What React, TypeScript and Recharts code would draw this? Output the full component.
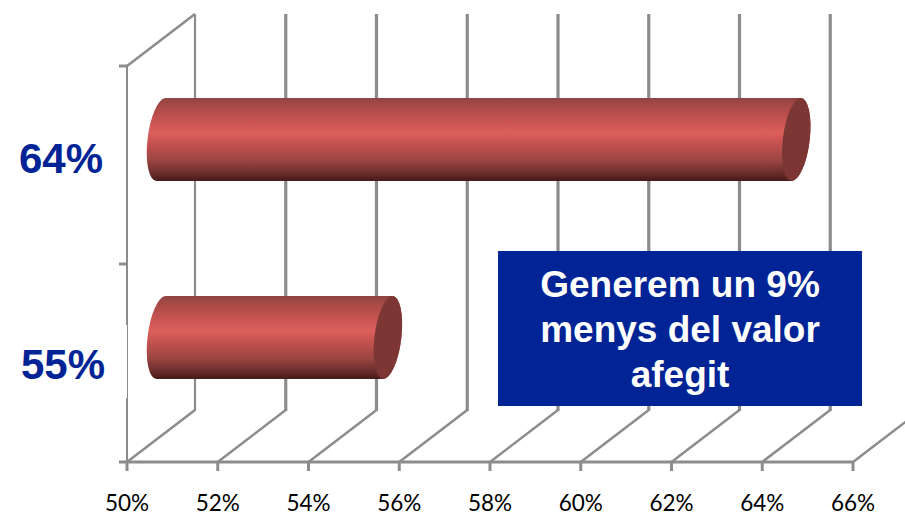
import React from "react";
import { BarChart, Bar, XAxis, YAxis, CartesianGrid } from "recharts";

const categories = ["64%", "55%"];
const values = [64, 55];
const xTicks = [50, 52, 54, 56, 58, 60, 62, 64, 66];
const noteLines = ["Generem un 9%", "menys del valor", "afegit"];

const data = categories.map((name, i) => ({ name, value: values[i] }));

const GRAY = "#8c8c8c";
const NAVY = "#002395";
const DEPTH_X = 68;
const DEPTH_Y = 52;
const Y_TICK = 8;

const labelShift = [
  { dx: 103, dy: -7 },
  { dx: 105, dy: 1 },
];

function CategoryTick(props: any) {
  const { y, payload, index } = props;
  const s = labelShift[index] || labelShift[0];
  return (
    <text
      x={s.dx}
      y={y + s.dy}
      textAnchor="end"
      dominantBaseline="central"
      fontFamily="'Liberation Sans', Arial, sans-serif"
      fontWeight={700}
      fontSize={42}
      fill={NAVY}
    >
      {payload.value}
    </text>
  );
}

function WallLine(props: any) {
  const { x1, y1, y2, index } = props;
  const top = Math.min(y1, y2);
  const bottom = Math.max(y1, y2);
  const bx = x1 + DEPTH_X;
  // The value-axis ticks of the 3D chart sit on the category band edges.
  const bandEdges = [top, (top + bottom) / 2, bottom];
  return (
    <g fill="none" stroke={GRAY}>
      <line x1={x1} y1={bottom} x2={bx} y2={bottom - DEPTH_Y} strokeWidth={2.5} />
      <line x1={bx} y1={bottom - DEPTH_Y + 1} x2={bx} y2={top - DEPTH_Y} strokeWidth={index === 0 ? 2.2 : 3.2} />
      {index === 0 && <line x1={x1} y1={top} x2={bx} y2={top - DEPTH_Y} strokeWidth={2.5} />}
      {index === 0 &&
        bandEdges.map((e) => <line key={e} x1={x1 - Y_TICK} y1={e} x2={x1} y2={e} strokeWidth={3} />)}
    </g>
  );
}

function Cylinder(props: any) {
  const { x, y, width, height } = props;
  const offX = DEPTH_X / 2;
  const offY = -DEPTH_Y / 2;
  const h = height / 2;
  const cy = y + h + offY;
  const x0 = x + offX;
  const x1 = x + width + offX;
  const rx = 13.5;
  return (
    <g transform={`translate(0 ${cy}) skewX(-6.3)`}>
      <path
        d={`M${x0} ${-h} A${rx} ${h} 0 0 0 ${x0} ${h} L${x1} ${h} A${rx} ${h} 0 0 0 ${x1} ${-h} Z`}
        fill="url(#cylBody)"
      />
      <ellipse cx={x1} cy={0} rx={rx} ry={h} fill="#7c3634" />
    </g>
  );
}

export default function App() {
  return (
    <div style={{ position: "absolute", left: 0, top: 0, width: 905, height: 515, background: "#fff" }}>
      <BarChart
        width={905}
        height={515}
        data={data}
        layout="vertical"
        margin={{ top: 66, right: 52, bottom: 0, left: 0 }}
        barSize={83}
      >
        <defs>
          <linearGradient id="cylBody" x1="0" y1="0" x2="0" y2="1">
            <stop offset="0" stopColor="#8e4442" />
            <stop offset="0.1" stopColor="#a84a47" />
            <stop offset="0.25" stopColor="#c4524f" />
            <stop offset="0.42" stopColor="#dc5f5c" />
            <stop offset="0.55" stopColor="#c4524f" />
            <stop offset="0.75" stopColor="#9c4542" />
            <stop offset="0.9" stopColor="#6b2e2c" />
            <stop offset="1" stopColor="#471a19" />
          </linearGradient>
        </defs>
        <CartesianGrid horizontal={false} vertical={(p: any) => <WallLine key={p.key ?? p.index} {...p} />} />
        <XAxis
          type="number"
          dataKey="value"
          domain={[50, 66]}
          ticks={xTicks}
          interval={0}
          height={53}
          tickFormatter={(v: number) => `${v}%`}
          axisLine={{ stroke: GRAY, strokeWidth: 3 }}
          tickLine={{ stroke: GRAY, strokeWidth: 3 }}
          tickSize={9}
          tickMargin={24}
          tick={{ fill: "#000", fontSize: 22.5, fontFamily: "Lato, sans-serif" }}
        />
        <YAxis
          type="category"
          dataKey="name"
          width={127}
          axisLine={{ stroke: GRAY, strokeWidth: 2 }}
          tickLine={false}
          tick={<CategoryTick />}
        />
        <Bar dataKey="value" isAnimationActive={false} shape={<Cylinder />} />
      </BarChart>
      <div style={{ position: "absolute", left: 126, top: 325, width: 1, height: 73, background: "#fff" }} />
      <div
        style={{
          position: "absolute",
          left: 498,
          top: 251,
          width: 364,
          height: 155,
          background: NAVY,
          color: "#fff",
          fontFamily: "'Liberation Sans', Arial, sans-serif",
          fontWeight: 700,
          fontSize: 37,
          lineHeight: "45px",
          textAlign: "center",
          paddingTop: 11,
          boxSizing: "border-box",
        }}
      >
        {noteLines.map((l) => (
          <div key={l}>{l}</div>
        ))}
      </div>
    </div>
  );
}
